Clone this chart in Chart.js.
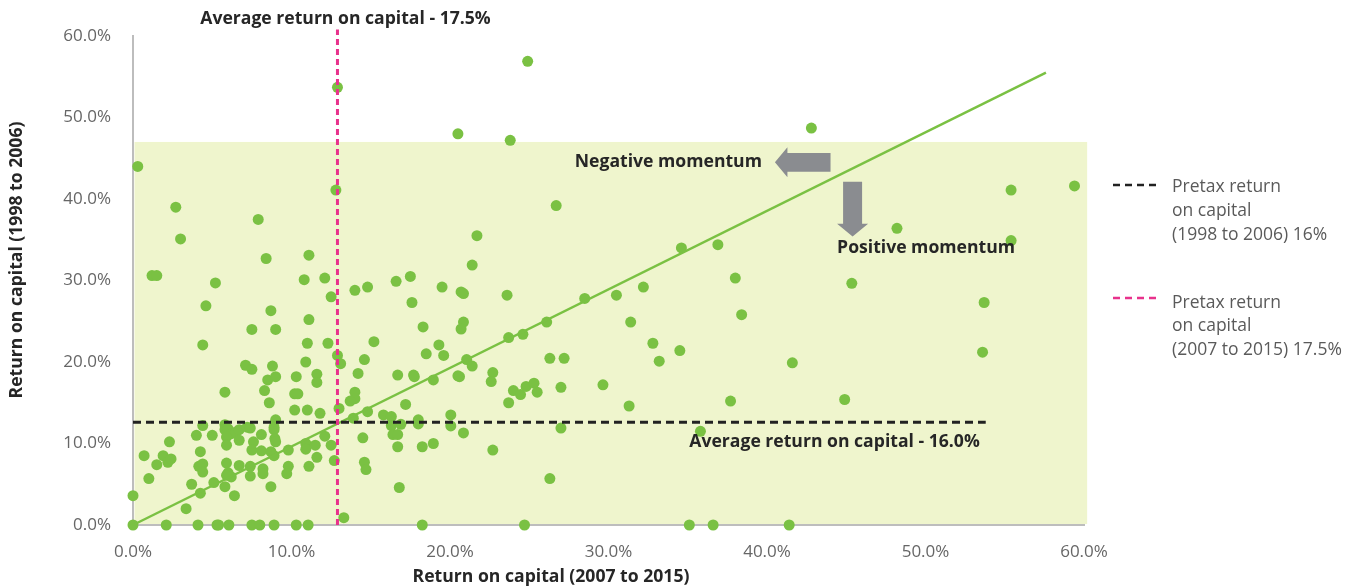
<!DOCTYPE html>
<html><head><meta charset="utf-8">
<script src="https://cdn.jsdelivr.net/npm/chart.js@4/dist/chart.umd.min.js"></script>
<style>html,body{margin:0;padding:0;background:#fff;}#wrap{width:1352px;height:586px;position:relative;}</style>
</head><body><div id="wrap"><canvas id="c" width="1352" height="586"></canvas></div>
<script>
// Return on capital 2007-2015 (x, %) and 1998-2006 (y, %) per company
const xReturn2007to2015 = [
 12.9,24.9,20.5,23.8,42.8,0.3,12.8,
 2.7,7.9,3.0,8.4,11.1,1.2,1.5,5.2,10.8,12.1,16.6,14.0,14.8,12.5,4.6,8.7,11.1,7.5,9.0,4.4,11.0,12.3,15.2,12.9,10.9,14.6,
 13.1,7.1,7.5,8.8,14.2,10.3,11.6,11.6,8.5,9.0,
 16.7,5.8,8.3,10.2,10.4,8.6,14.0,14.0,13.7,10.2,
 11.0,11.8,13.0,14.8,15.8,16.3,13.9,9.0,4.4,5.8,
 5.8,6.0,6.2,5.9,6.5,6.7,7.2,7.4,6.7,5.9,
 8.9,8.9,8.95,9.0,4.0,5.0,8.1,7.6,7.5,8.1,
 8.7,8.9,9.8,10.9,10.9,11.5,12.1,12.5,11.6,11.1,
 12.7,14.5,14.6,14.7,16.7,16.8,2.3,0.7,1.9,2.2,
 2.4,1.5,1.0,4.25,4.15,4.4,4.4,5.9,6.7,7.4,
 7.4,6.0,6.2,5.9,8.2,8.2,9.8,9.7,5.1,5.8,
 6.4,3.7,4.25,8.7,0.0,3.35,13.3,
 0.0,2.1,4.1,5.3,5.4,6.05,7.5,8.0,8.9,10.3,11.05,18.25,24.7,35.1,36.6,41.4,
 26.7,21.7,21.4,17.5,17.6,19.5,20.7,20.85,23.6,28.5,
 30.5,32.2,34.6,18.3,20.85,20.7,19.3,18.5,19.6,23.7,
 24.6,26.1,21.05,31.4,32.8,26.3,27.2,34.5,33.2,
 21.4,17.7,17.75,18.95,20.5,20.6,22.7,22.6,24.0,24.45,
 24.8,25.3,25.5,27.0,23.7,29.65,31.3,17.2,16.3,16.9,
 18.0,18.0,20.05,20.05,20.85,16.4,16.7,18.25,18.95,22.7,
 27.0,26.3,
 55.4,59.4,48.2,55.4,36.9,38.0,45.35,53.7,38.4,41.6,53.6,37.7,44.9,35.8
];
const yReturn1998to2006 = [
 53.7,56.9,48.0,47.2,48.7,44.0,41.1,
 39.0,37.5,35.1,32.7,33.1,30.6,30.6,29.7,30.1,30.3,29.9,28.8,29.2,28.0,26.9,26.3,25.2,24.0,24.0,22.1,22.3,22.3,22.5,20.8,20.0,20.3,
 19.8,19.6,19.1,19.5,18.6,18.2,18.5,17.5,17.8,18.2,
 18.4,16.3,16.5,16.1,16.1,15.0,16.3,15.5,15.2,14.1,
 14.1,13.7,14.3,13.9,13.5,13.3,13.1,12.9,12.2,12.3,
 11.7,11.8,11.2,10.8,11.4,11.7,12.0,11.9,10.4,9.8,
 12.0,11.7,10.6,10.2,11.0,11.0,11.1,10.2,9.2,9.1,
 9.0,8.5,9.2,10.0,9.3,9.8,10.9,9.8,8.3,7.2,
 7.9,10.7,7.7,6.8,9.6,4.6,10.2,8.5,8.5,7.7,
 8.1,7.4,5.7,9.0,7.2,7.5,6.5,7.6,7.3,7.2,
 6.0,6.4,5.9,6.1,6.9,6.3,7.2,6.3,5.2,4.7,
 3.6,5.0,3.9,4.7,3.6,2.0,0.9,
 0,0,0,0,0,0,0,0,0,0,0,0,0,0,0,0,
 39.2,35.5,31.9,30.5,27.3,29.2,28.6,28.4,28.2,27.8,
 28.2,29.2,34.0,24.3,24.9,24.05,22.1,21.0,20.8,23.0,
 23.4,24.9,20.3,24.9,22.3,20.45,20.45,21.4,20.1,
 19.5,18.4,18.2,17.8,18.3,18.2,18.7,17.6,16.5,16.0,
 17.0,17.4,16.3,16.9,15.0,17.2,14.6,14.8,12.2,12.35,
 12.9,12.4,13.5,12.15,11.3,11.1,11.1,9.6,10.0,9.2,
 11.9,5.7,
 41.1,41.6,36.4,34.9,34.4,30.3,29.65,27.3,25.8,19.9,21.2,15.2,15.4,11.5
];
// Trend line
const trendX = [0, 57.6];
const trendY = [0, 55.5];
// Average lines (drawn positions)
const avg1998X = [0, 53.8];
const avg1998Y = [12.6, 12.6];
const avg2007X = [12.9, 12.9];
const avg2007Y = [0, 60.8];
// Shaded zone top / right
const shadeTop = 47.0;
const shadeRight = 60.2;
// Axis ticks
const tickValues = [0, 10, 20, 30, 40, 50, 60];
// Annotation anchors (data units)
const negArrowTip = [40.5, 44.5];
const posArrowTip = [45.4, 35.4];

const FONT = "'Open Sans', 'DejaVu Sans', sans-serif";
const GREEN = '#7ac143';
const PINK = '#e8328c';
const DARK = '#262626';
const GREY = '#666666';
const ARROW = '#8a8c90';
const BOLD = "bold 17.6px " + FONT;

const points = xReturn2007to2015.map((x, i) => ({x, y: yReturn1998to2006[i]}));
const pairs = (xs, ys) => xs.map((x, i) => ({x, y: ys[i]}));

const shadePlugin = {
  id: 'shade',
  beforeDatasetsDraw(chart) {
    const {ctx, scales: {x, y}} = chart;
    ctx.save();
    ctx.fillStyle = '#eff5cd';
    const x0 = x.getPixelForValue(0) + 1.5, x1 = x.getPixelForValue(shadeRight);
    const y0 = y.getPixelForValue(shadeTop), y1 = y.getPixelForValue(0) - 1;
    ctx.fillRect(x0, y0, x1 - x0, y1 - y0);
    ctx.restore();
  }
};

const annoPlugin = {
  id: 'anno',
  afterDatasetsDraw(chart) {
    const {ctx, scales: {x, y}} = chart;
    ctx.save();
    // negative momentum arrow (pointing left)
    let tx = x.getPixelForValue(negArrowTip[0]), ty = y.getPixelForValue(negArrowTip[1]);
    ctx.fillStyle = ARROW;
    ctx.beginPath();
    ctx.moveTo(tx, ty);
    ctx.lineTo(tx + 12.5, ty - 15);
    ctx.lineTo(tx + 12.5, ty - 9.3);
    ctx.lineTo(tx + 55.6, ty - 9.3);
    ctx.lineTo(tx + 55.6, ty + 9.3);
    ctx.lineTo(tx + 12.5, ty + 9.3);
    ctx.lineTo(tx + 12.5, ty + 15);
    ctx.closePath();
    ctx.fill();
    ctx.fillStyle = DARK;
    ctx.font = BOLD;
    ctx.textAlign = 'right';
    ctx.textBaseline = 'middle';
    ctx.fillText('Negative momentum', tx - 13, ty);
    // positive momentum arrow (pointing down)
    tx = x.getPixelForValue(posArrowTip[0]); ty = y.getPixelForValue(posArrowTip[1]);
    ctx.fillStyle = ARROW;
    ctx.beginPath();
    ctx.moveTo(tx, ty);
    ctx.lineTo(tx - 15.5, ty - 12.7);
    ctx.lineTo(tx - 9.5, ty - 12.7);
    ctx.lineTo(tx - 9.5, ty - 54.7);
    ctx.lineTo(tx + 9.5, ty - 54.7);
    ctx.lineTo(tx + 9.5, ty - 12.7);
    ctx.lineTo(tx + 15.5, ty - 12.7);
    ctx.closePath();
    ctx.fill();
    ctx.fillStyle = DARK;
    ctx.textAlign = 'left';
    ctx.fillText('Positive momentum', tx - 15.5, ty + 11.5);
    // average labels
    const ex = x.getPixelForValue(avg1998X[1]), ey = y.getPixelForValue(avg1998Y[1]);
    ctx.textAlign = 'right';
    ctx.fillText('Average return on capital - 16.0%', ex - 6, ey + 19.5);
    const px = x.getPixelForValue(avg2007X[0]);
    ctx.textAlign = 'center';
    ctx.fillText('Average return on capital - 17.5%', px + 8, 18.5);
    ctx.restore();
  },
  afterDraw(chart) {
    const {ctx} = chart;
    ctx.save();
    // axis titles
    ctx.fillStyle = DARK;
    ctx.font = BOLD;
    ctx.textAlign = 'center';
    ctx.textBaseline = 'middle';
    ctx.fillText('Return on capital (2007 to 2015)', 551, 577);
    ctx.translate(17, 260);
    ctx.rotate(-Math.PI / 2);
    ctx.fillText('Return on capital (1998 to 2006)', 0, 0);
    ctx.restore();
    // legend
    ctx.save();
    const drawDash = (color, yy) => {
      ctx.strokeStyle = color;
      ctx.lineWidth = 2.5;
      ctx.setLineDash([7, 5]);
      ctx.beginPath();
      ctx.moveTo(1113, yy);
      ctx.lineTo(1156, yy);
      ctx.stroke();
    };
    drawDash('#222', 185);
    drawDash(PINK, 298);
    ctx.fillStyle = '#5a5a5a';
    ctx.font = "17.5px " + FONT;
    ctx.textAlign = 'left';
    ctx.textBaseline = 'middle';
    ['Pretax return', 'on capital', '(1998 to 2006) 16%'].forEach((t, i) => ctx.fillText(t, 1172, 187 + i * 24));
    ['Pretax return', 'on capital', '(2007 to 2015) 17.5%'].forEach((t, i) => ctx.fillText(t, 1172, 303 + i * 23.5));
    ctx.restore();
  }
};

const tickFmt = v => v.toFixed(1) + '%';

new Chart(document.getElementById('c'), {
  type: 'scatter',
  data: {
    datasets: [
      {data: pairs(avg2007X, avg2007Y), showLine: true, borderColor: PINK, borderWidth: 3, borderDash: [6, 4], pointRadius: 0, clip: false, order: 0},
      {data: pairs(avg1998X, avg1998Y), showLine: true, borderColor: '#222', borderWidth: 3, borderDash: [8, 5], pointRadius: 0, clip: false, order: 0},
      {data: pairs(trendX, trendY), showLine: true, borderColor: GREEN, borderWidth: 2.5, pointRadius: 0, clip: false, order: 0},
      {data: points, backgroundColor: GREEN, borderWidth: 0, pointRadius: 5.5, pointHoverRadius: 5.5, clip: false, order: 1}
    ]
  },
  options: {
    responsive: false,
    animation: false,
    devicePixelRatio: 1,
    layout: {padding: {left: 0, top: 36, right: 268, bottom: 0}},
    plugins: {legend: {display: false}, tooltip: {enabled: false}},
    scales: {
      x: {
        type: 'linear', min: 0, max: 60,
        afterBuildTicks: s => { s.ticks = tickValues.map(v => ({value: v})); },
        afterFit: s => { s.height = 61; },
        grid: {display: false, drawTicks: false},
        border: {display: true, color: '#bdbdbd', width: 2},
        ticks: {callback: tickFmt, color: GREY, font: {family: FONT, size: 17}, padding: 17, maxRotation: 0, autoSkip: false}
      },
      y: {
        type: 'linear', min: 0, max: 60,
        afterBuildTicks: s => { s.ticks = tickValues.map(v => ({value: v})); },
        afterFit: s => { s.width = 133; },
        grid: {display: false, drawTicks: false},
        border: {display: true, color: '#bdbdbd', width: 2},
        ticks: {callback: tickFmt, color: GREY, font: {family: FONT, size: 17}, padding: 22, autoSkip: false}
      }
    }
  },
  plugins: [shadePlugin, annoPlugin]
});
</script>
</body></html>
